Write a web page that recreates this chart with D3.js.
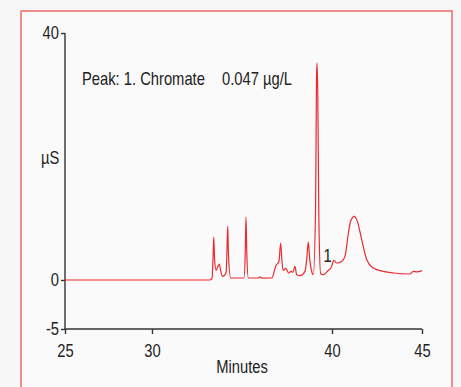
<!DOCTYPE html>
<html>
<head>
<meta charset="utf-8">
<script src="https://cdnjs.cloudflare.com/ajax/libs/d3/7.8.5/d3.min.js"></script>
<style>
  body { margin: 0; background: #f6f6f6; }
  svg text { font-family: "Liberation Sans", Arial, sans-serif; fill: #222; }
  .axis path, .axis line { stroke: #333; stroke-width: 1.4; }
  .axis text { font-size: 18px; }
</style>
</head>
<body>
<script>
// chromatogram trace, minutes vs µS
var minutes = [25, 30, 33.2, 33.33, 33.39, 33.43, 33.48, 33.56, 33.66, 33.74, 33.82, 33.93, 34.12, 34.18, 34.21, 34.25, 34.37,
  35.11, 35.18, 35.22, 35.27, 35.35, 35.9, 36.0, 36.1, 36.65, 36.89, 37.05, 37.15, 37.22, 37.29, 37.44, 37.59, 37.72, 37.82,
  37.94, 38.04, 38.22, 38.5, 38.6, 38.68, 38.76, 38.87, 38.96, 39.09, 39.14, 39.17, 39.21, 39.27, 39.37, 39.52, 39.79, 39.94,
  40.11, 40.26, 40.54, 40.72, 40.91, 41.04, 41.24, 41.41, 41.65, 41.93, 42.29, 42.85, 43.41, 44.33, 44.52, 44.71, 45];
var microS = [0, 0, 0, 0.2, 3.5, 6.96, 3.2, 1.55, 2.2, 2.59, 1.4, 0.58, 1.2, 6.5, 8.68, 4.0, 0.32,
  0.32, 4.5, 10.2, 4.0, 0.32, 0.32, 0.49, 0.3, 0.32, 2.36, 3.0, 5.99, 3.0, 1.55, 1.88, 1.13, 1.39, 1.23,
  2.2, 0.86, 0.7, 1.39, 3.5, 6.15, 3.5, 1.39, 0.86, 12, 33, 35.14, 30, 10, 1.02, 0.86, 1.55, 1.94,
  3.17, 2.75, 3.01, 3.82, 7.61, 9.6, 10.3, 9.49, 6.53, 3.29, 1.94, 1.39, 1.13, 0.97, 1.39, 1.3, 1.51];

var xTicks = [25, 30, 40, 45];
var yTicks = [-5, 0, 40];
var peakLabels = [{label: '1', time: 39.75, value: 2.96}];
var note = ['Peak: 1. Chromate', '0.047 µg/L'];

// no condensed font installed, so squeeze the text sideways
var squeeze = 0.82;

var svg = d3.select('body').append('svg').attr('width', 461).attr('height', 387);

// outer frame
svg.append('rect').attr('x', 21).attr('y', 11).attr('width', 431).attr('height', 400)
  .attr('fill', '#fafafa').attr('stroke', '#f07272').attr('stroke-width', 1.6);

// the original axes are not evenly spaced, so use piecewise scales
var x = d3.scaleLinear().domain(xTicks).range([65, 152, 332, 422]);
var y = d3.scaleLinear().domain(yTicks).range([329, 280, 33]);

svg.append('g').attr('class', 'axis').attr('transform', 'translate(0,329)')
  .call(d3.axisBottom(x).tickValues(xTicks).tickSize(5).tickSizeOuter(0).tickPadding(10).tickFormat(String))
  .call(function(g){
    g.select('.domain').attr('d', 'M65,0H422');
    g.selectAll('text').attr('transform', 'scale(' + squeeze + ',1)');
  });

svg.append('g').attr('class', 'axis').attr('transform', 'translate(65,0)')
  .call(d3.axisLeft(y).tickValues(yTicks).tickSize(4).tickSizeOuter(0).tickFormat(String))
  .call(function(g){
    g.select('.domain').attr('d', 'M0,33V329');
    g.selectAll('text').attr('x', 0).attr('transform', 'translate(-6,0) scale(' + squeeze + ',1)');
  });

var line = d3.line()
  .x(function(d, i){ return x(minutes[i]); })
  .y(function(d){ return y(d); })
  .curve(d3.curveMonotoneX);

svg.append('path').datum(microS).attr('d', line)
  .attr('fill', 'none').attr('stroke', '#ec2a2f').attr('stroke-width', 1.2);

function label(px, py, txt, anchor){
  return svg.append('text')
    .attr('transform', 'translate(' + px + ',' + py + ') scale(' + squeeze + ',1)')
    .attr('text-anchor', anchor || 'start').attr('font-size', 18)
    .text(txt);
}

peakLabels.forEach(function(d){ label(x(d.time), y(d.value), d.label, 'middle'); });

label(82, 85, note[0]);
label(222, 85, note[1]);
label(41, 164, 'µS');
label(242, 373, 'Minutes', 'middle');
</script>
</body>
</html>
